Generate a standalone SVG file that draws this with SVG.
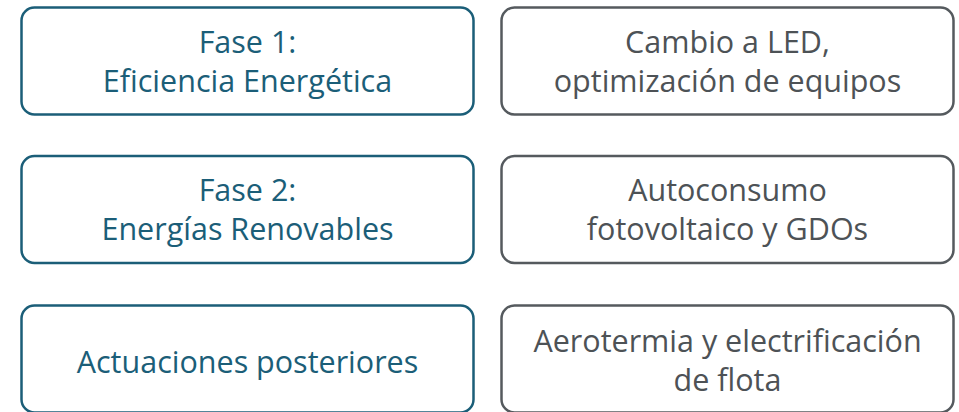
<svg xmlns="http://www.w3.org/2000/svg" width="959" height="412" viewBox="0 0 959 412">
<style>
.box{fill:#ffffff;stroke-width:2.5}
.phase{stroke:#1b5e78}
.detail{stroke:#555a5e}
text{font-family:"Open Sans","Noto Sans","Liberation Sans",sans-serif;font-size:30.5px;text-anchor:middle}
.pt{fill:#1b5e78}
.dt{fill:#4d5256}
</style>
<rect width="959" height="412" fill="#ffffff"/>
<g id="connectors"></g>
<g id="fase1">
<rect class="box phase" x="21.5" y="7.5" width="452" height="107" rx="13"/>
<text class="pt" x="247.5" y="53">Fase 1:</text>
<text class="pt" x="247.5" y="92">Eficiencia Energética</text>
</g>
<g id="detalle1">
<rect class="box detail" x="501.5" y="7.5" width="452" height="107" rx="13"/>
<text class="dt" x="727.5" y="53">Cambio a LED,</text>
<text class="dt" x="727.5" y="92">optimización de equipos</text>
</g>
<g id="fase2">
<rect class="box phase" x="21.5" y="156" width="452" height="107" rx="13"/>
<text class="pt" x="247.5" y="201">Fase 2:</text>
<text class="pt" x="247.5" y="240">Energías Renovables</text>
</g>
<g id="detalle2">
<rect class="box detail" x="501.5" y="156" width="452" height="107" rx="13"/>
<text class="dt" x="727.5" y="201">Autoconsumo</text>
<text class="dt" x="727.5" y="240">fotovoltaico y GDOs</text>
</g>
<g id="posteriores">
<rect class="box phase" x="21.5" y="305.5" width="452" height="107" rx="13"/>
<text class="pt" x="247.5" y="373">Actuaciones posteriores</text>
</g>
<g id="detalle3">
<rect class="box detail" x="501.5" y="305.5" width="452" height="107" rx="13"/>
<text class="dt" x="727.5" y="352">Aerotermia y electrificación</text>
<text class="dt" x="727.5" y="391">de flota</text>
</g>
</svg>
